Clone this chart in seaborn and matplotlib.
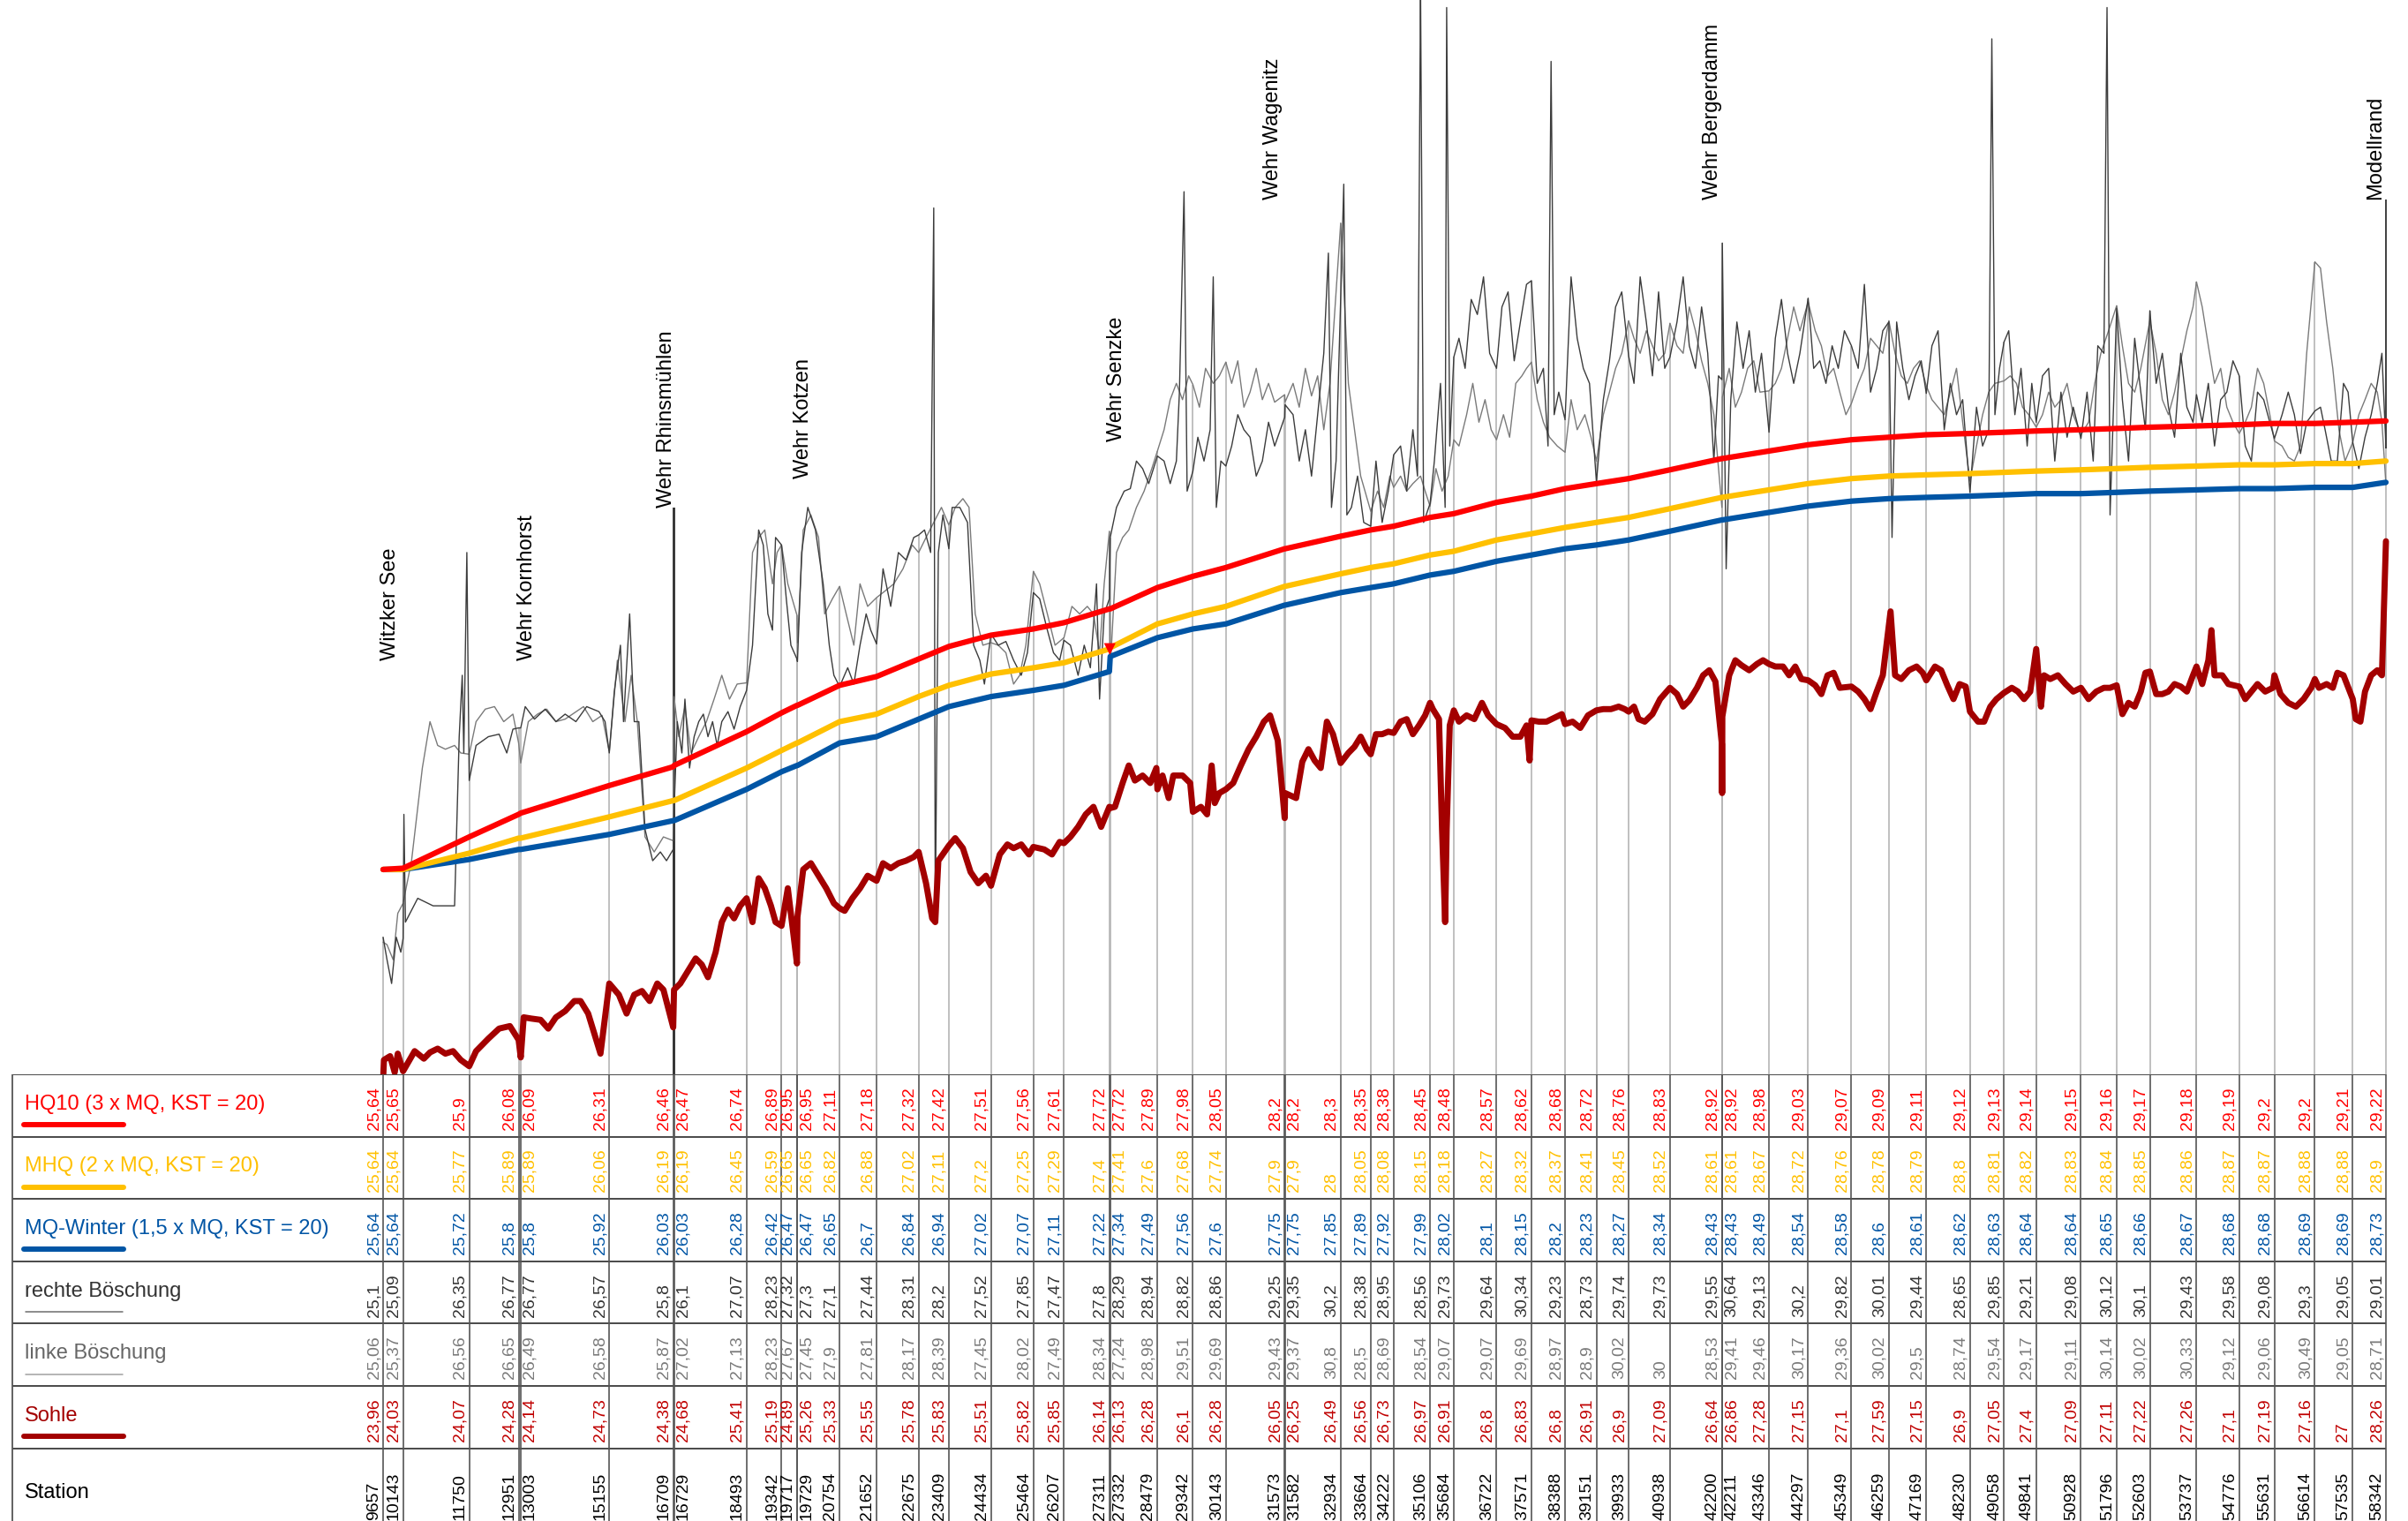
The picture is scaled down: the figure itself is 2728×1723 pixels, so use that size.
import numpy as np
import pandas as pd
import matplotlib
matplotlib.use("Agg")
import matplotlib.pyplot as plt
import matplotlib.transforms as mtransforms
import seaborn as sns

# table stations and values
stations = [9657, 10143, 11750, 12951, 13003, 15155, 16709, 16729, 18493, 19342,
            19717, 19729, 20754, 21652, 22675, 23409, 24434, 25464, 26207, 27311,
            27332, 28479, 29342, 30143, 31573, 31582, 32934, 33664, 34222, 35106,
            35684, 36722, 37571, 38388, 39151, 39933, 40938, 42200, 42211, 43346,
            44297, 45349, 46259, 47169, 48230, 49058, 49841, 50928, 51796, 52603,
            53737, 54776, 55631, 56614, 57535, 58342]
hq10 = [25.64, 25.65, 25.9, 26.08, 26.09, 26.31, 26.46, 26.47, 26.74, 26.89,
        26.95, 26.95, 27.11, 27.18, 27.32, 27.42, 27.51, 27.56, 27.61, 27.72,
        27.72, 27.89, 27.98, 28.05, 28.2, 28.2, 28.3, 28.35, 28.38, 28.45,
        28.48, 28.57, 28.62, 28.68, 28.72, 28.76, 28.83, 28.92, 28.92, 28.98,
        29.03, 29.07, 29.09, 29.11, 29.12, 29.13, 29.14, 29.15, 29.16, 29.17,
        29.18, 29.19, 29.2, 29.2, 29.21, 29.22]
mhq = [25.64, 25.64, 25.77, 25.89, 25.89, 26.06, 26.19, 26.19, 26.45, 26.59,
       26.65, 26.65, 26.82, 26.88, 27.02, 27.11, 27.2, 27.25, 27.29, 27.4,
       27.41, 27.6, 27.68, 27.74, 27.9, 27.9, 28.0, 28.05, 28.08, 28.15,
       28.18, 28.27, 28.32, 28.37, 28.41, 28.45, 28.52, 28.61, 28.61, 28.67,
       28.72, 28.76, 28.78, 28.79, 28.8, 28.81, 28.82, 28.83, 28.84, 28.85,
       28.86, 28.87, 28.87, 28.88, 28.88, 28.9]
mq_winter = [25.64, 25.64, 25.72, 25.8, 25.8, 25.92, 26.03, 26.03, 26.28, 26.42,
             26.47, 26.47, 26.65, 26.7, 26.84, 26.94, 27.02, 27.07, 27.11, 27.22,
             27.34, 27.49, 27.56, 27.6, 27.75, 27.75, 27.85, 27.89, 27.92, 27.99,
             28.02, 28.1, 28.15, 28.2, 28.23, 28.27, 28.34, 28.43, 28.43, 28.49,
             28.54, 28.58, 28.6, 28.61, 28.62, 28.63, 28.64, 28.64, 28.65, 28.66,
             28.67, 28.68, 28.68, 28.69, 28.69, 28.73]
rechte = [25.1, 25.09, 26.35, 26.77, 26.77, 26.57, 25.8, 26.1, 27.07, 28.23,
          27.32, 27.3, 27.1, 27.44, 28.31, 28.2, 27.52, 27.85, 27.47, 27.8,
          28.29, 28.94, 28.82, 28.86, 29.25, 29.35, 30.2, 28.38, 28.95, 28.56,
          29.73, 29.64, 30.34, 29.23, 28.73, 29.74, 29.73, 29.55, 30.64, 29.13,
          30.2, 29.82, 30.01, 29.44, 28.65, 29.85, 29.21, 29.08, 30.12, 30.1,
          29.43, 29.58, 29.08, 29.3, 29.05, 29.01]
linke = [25.06, 25.37, 26.56, 26.65, 26.49, 26.58, 25.87, 27.02, 27.13, 28.23,
         27.67, 27.45, 27.9, 27.81, 28.17, 28.39, 27.45, 28.02, 27.49, 28.34,
         27.24, 28.98, 29.51, 29.69, 29.43, 29.37, 30.8, 28.5, 28.69, 28.54,
         29.07, 29.07, 29.69, 28.97, 28.9, 30.02, 30.0, 28.53, 29.41, 29.46,
         30.17, 29.36, 30.02, 29.5, 28.74, 29.54, 29.17, 29.11, 30.14, 30.02,
         30.33, 29.12, 29.06, 30.49, 29.05, 28.71]
sohle = [23.96, 24.03, 24.07, 24.28, 24.14, 24.73, 24.38, 24.68, 25.41, 25.19,
         24.89, 25.26, 25.33, 25.55, 25.78, 25.83, 25.51, 25.82, 25.85, 26.14,
         26.13, 26.28, 26.1, 26.28, 26.05, 26.25, 26.49, 26.56, 26.73, 26.97,
         26.91, 26.8, 26.83, 26.8, 26.91, 26.9, 27.09, 26.64, 26.86, 27.28,
         27.15, 27.1, 27.59, 27.15, 26.9, 27.05, 27.4, 27.09, 27.11, 27.22,
         27.26, 27.1, 27.19, 27.16, 27.0, 28.26]

# profile points between the table stations
sohle_mid_st = [9678, 9827, 9939, 10014, 10424, 10648, 10797, 10984, 11171, 11357, 11544,
                11917, 12216, 12477, 12739, 13075, 13261, 13485, 13672, 13858, 14082, 14306,
                14456, 14642, 14829, 14941, 15389, 15576, 15762, 15949, 16136, 16322, 16472,
                16882, 17069, 17255, 17405, 17554, 17741, 17890, 18040, 18189, 18338,
                18637, 18786, 18935, 19085, 19197, 19495, 19869, 20055, 20242, 20429, 20615,
                20877, 21063, 21250, 21436, 21810, 21996, 22183, 22370, 22556,
                22855, 23004, 23079, 23154, 23564, 23751, 23937, 24124, 24311,
                24647, 24833, 24983, 25169, 25356, 25729, 25916, 26103,
                26364, 26551, 26737, 26924, 27111, 27447, 27633, 27783, 27932, 28119, 28305, 28454,
                28603, 28753, 28865, 29089, 29276, 29537, 29686, 29798, 29873, 29985,
                30321, 30508, 30695, 30881, 31068, 31217, 31404,
                31851, 32001, 32150, 32300, 32449, 32598, 32747, 33121, 33270, 33420, 33569,
                33792, 33942, 34091, 34390, 34539, 34689, 34838, 34987,
                35174, 35324, 35398, 35473, 35510, 35585, 35809, 35995, 36182, 36368, 36518,
                36928, 37115, 37302, 37451, 37526, 37750, 37937, 38123, 38310,
                38571, 38758, 38945, 39318, 39504, 39691, 39840,
                40064, 40176, 40325, 40512, 40699, 41109, 41259, 41408, 41595, 41744, 41893, 42043,
                42206, 42378, 42528, 42677, 42864, 43051, 43200,
                43499, 43686, 43834, 43984, 44133, 44469, 44618, 44768, 44917, 45066,
                45514, 45664, 45813, 45963, 46112, 46300, 46410, 46560, 46746, 46933, 47082,
                47381, 47530, 47679, 47829, 47978, 48127, 48426, 48575, 48725, 48874,
                49247, 49396, 49546, 49695, 49957, 50031, 50181, 50367, 50554, 50741,
                51114, 51300, 51487, 51636, 51936, 52085, 52234, 52383, 52495,
                52757, 52906, 53055, 53204, 53354, 53503, 53652,
                53876, 54025, 54100, 54175, 54362, 54511, 54922, 55071, 55220, 55407, 55593,
                55780, 55967, 56153, 56340, 56527, 56713, 56900, 57050, 57161, 57310,
                57609, 57721, 57833, 57983, 58132, 58244]
sohle_mid_h = [24.12, 24.15, 24.02, 24.17, 24.19, 24.13, 24.18, 24.21, 24.17, 24.19, 24.12,
               24.19, 24.29, 24.37, 24.39, 24.46, 24.45, 24.44, 24.37, 24.46, 24.51, 24.59,
               24.59, 24.49, 24.29, 24.17, 24.64, 24.49, 24.64, 24.67, 24.59, 24.73, 24.68,
               24.73, 24.83, 24.93, 24.88, 24.78, 24.98, 25.22, 25.32, 25.25, 25.35,
               25.22, 25.57, 25.49, 25.35, 25.22, 25.49, 25.64, 25.69, 25.59, 25.49, 25.37,
               25.31, 25.41, 25.49, 25.59, 25.69, 25.65, 25.69, 25.71, 25.74,
               25.53, 25.25, 25.22, 25.71, 25.89, 25.81, 25.62, 25.53, 25.59,
               25.76, 25.84, 25.81, 25.84, 25.76, 25.80, 25.76, 25.86,
               25.90, 25.98, 26.08, 26.14, 25.98, 26.14, 26.33, 26.47, 26.35, 26.39, 26.33, 26.45,
               26.39, 26.21, 26.39, 26.39, 26.33, 26.14, 26.08, 26.47, 26.17, 26.25,
               26.33, 26.47, 26.60, 26.70, 26.82, 26.87, 26.67,
               26.21, 26.50, 26.60, 26.51, 26.45, 26.82, 26.72, 26.57, 26.62, 26.70, 26.60,
               26.72, 26.72, 26.74, 26.82, 26.84, 26.72, 26.79, 26.87,
               26.92, 26.84, 25.96, 25.22, 25.96, 26.79, 26.82, 26.87, 26.84, 26.97, 26.87,
               26.77, 26.70, 26.70, 26.79, 26.51, 26.82, 26.82, 26.85, 26.88,
               26.82, 26.77, 26.87, 26.92, 26.92, 26.94, 26.92,
               26.94, 26.84, 26.82, 26.88, 27.00, 27.04, 26.94, 26.99, 27.09, 27.19, 27.23, 27.14,
               26.25, 27.19, 27.31, 27.27, 27.23, 27.28, 27.31,
               27.26, 27.26, 27.19, 27.26, 27.16, 27.11, 27.04, 27.19, 27.21, 27.09,
               27.06, 27.00, 26.92, 27.06, 27.19, 27.70, 27.19, 27.16, 27.23, 27.26, 27.21,
               27.26, 27.23, 27.11, 27.00, 27.12, 27.10, 26.82, 26.82, 26.94, 27.00,
               27.09, 27.06, 27.00, 27.06, 26.94, 27.19, 27.16, 27.19, 27.12, 27.06,
               27.00, 27.06, 27.09, 27.09, 26.88, 26.97, 26.94, 27.06, 27.21,
               27.04, 27.04, 27.06, 27.12, 27.10, 27.06, 27.19,
               27.12, 27.31, 27.55, 27.19, 27.19, 27.12, 27.00, 27.06, 27.12, 27.06, 27.09,
               27.04, 26.97, 26.94, 27.00, 27.09, 27.09, 27.12, 27.09, 27.21, 27.19,
               26.84, 26.82, 27.06, 27.19, 27.23, 27.19]

rechte_mid_st = [9752, 9864, 9976, 10088, 10163, 10200, 10499, 10872, 11395, 11507, 11581, 11619, 11693,
                 11917, 12216, 12477, 12664, 12813, 13112, 13336, 13597, 13858, 14082, 14344, 14605,
                 14904, 15053, 15277, 15426, 15501, 15650, 15762, 15874, 16024, 16210, 16397, 16546,
                 16808, 16920, 16994, 17106, 17218, 17330, 17442, 17554, 17666, 17778, 17890, 18040,
                 18189, 18338, 18637, 18786, 18898, 19010, 19122, 19197, 19458, 19570,
                 19831, 19981, 20167, 20354, 20503, 20615, 20951, 21100, 21250, 21399, 21511,
                 21810, 21996, 22183, 22370, 22556, 22818, 22967, 23042, 23079, 23154, 23266,
                 23490, 23676, 23863, 24012, 24162, 24274, 24610, 24796, 24983, 25169, 25319,
                 25617, 25804, 25953, 26103, 26364, 26551, 26700, 26849, 26999, 27073, 27185,
                 27484, 27671, 27820, 27969, 28119, 28268, 28641, 28790, 28940, 29014, 29126, 29201,
                 29462, 29612, 29761, 29836, 29911, 30022, 30284, 30433, 30582, 30731, 30881, 31030,
                 31180, 31329, 31777, 31926, 32076, 32225, 32374, 32523, 32635, 32710, 32822,
                 33009, 33084, 33195, 33344, 33494, 33792, 33942, 34091, 34390, 34539, 34689, 34801,
                 34875, 34950, 35211, 35360, 35473, 35510, 35585, 35809, 35958, 36107, 36256, 36406,
                 36555, 36854, 37003, 37152, 37302, 37451, 37712, 37862, 37974, 38048, 38123, 38235,
                 38534, 38683, 38832, 38982, 39318, 39467, 39616, 39766, 40064, 40214, 40363, 40512,
                 40661, 40811, 41109, 41259, 41408, 41557, 41707, 41856, 42005, 42117,
                 42304, 42416, 42565, 42715, 42864, 43013, 43163, 43499, 43648, 43797, 43946, 44096,
                 44432, 44581, 44730, 44880, 45029, 45178, 45514, 45664, 45813, 45963, 46112,
                 46336, 46448, 46597, 46746, 46896, 47045, 47306, 47455, 47605, 47754, 47903, 48053,
                 48389, 48538, 48687, 48762, 48837, 48949, 49173, 49322, 49471, 49621, 49733,
                 49994, 50143, 50292, 50442, 50591, 50741, 51077, 51226, 51338, 51487, 51562, 51636,
                 51935, 52085, 52234, 52383, 52495, 52757, 52906, 53055, 53204, 53354, 53503, 53652,
                 53876, 54025, 54175, 54324, 54474, 54623, 54922, 55071, 55220, 55370, 55519,
                 55817, 55967, 56116, 56265, 56415, 56751, 56863, 57012, 57161, 57310, 57422,
                 57684, 57833, 57983, 58132, 58244]
rechte_mid_h = [24.92, 24.73, 25.10, 24.98, 26.08, 25.22, 25.41, 25.35, 25.35, 26.70, 27.19, 26.57, 28.17,
                26.63, 26.70, 26.72, 26.57, 26.76, 26.94, 26.84, 26.92, 26.82, 26.88, 26.82, 26.94,
                26.90, 26.82, 27.06, 27.43, 26.82, 27.68, 26.82, 26.82, 25.96, 25.71, 25.78, 25.71,
                26.82, 26.57, 27.00, 26.45, 26.70, 26.82, 26.88, 26.70, 26.82, 26.63, 26.82, 26.90,
                26.76, 26.94, 27.43, 28.35, 28.23, 27.68, 27.55, 28.29, 27.80, 27.43,
                28.17, 28.53, 28.35, 27.92, 27.43, 27.19, 27.25, 27.12, 27.43, 27.68, 27.55,
                28.04, 27.74, 28.17, 28.11, 28.29, 28.35, 28.17, 30.92, 25.22, 28.17, 28.47,
                28.53, 28.53, 28.41, 27.43, 27.31, 27.12, 27.43, 27.46, 27.31, 27.19, 27.37,
                27.80, 27.55, 27.37, 27.31, 27.43, 27.19, 27.43, 27.25, 27.92, 27.00, 27.68,
                28.53, 28.66, 28.68, 28.90, 28.84, 28.72, 28.90, 28.72, 28.90, 29.45, 31.05, 28.66,
                29.09, 28.90, 29.15, 30.37, 28.53, 28.90, 29.02, 29.27, 29.15, 29.09, 28.78, 28.90,
                29.21, 29.02, 29.27, 28.90, 29.15, 28.78, 29.27, 29.76, 30.56, 28.53, 28.90,
                31.11, 28.47, 28.53, 28.78, 28.41, 28.90, 28.41, 28.66, 29.02, 28.66, 29.15, 28.78,
                32.70, 28.41, 28.90, 29.52, 28.53, 32.52, 29.02, 29.88, 29.64, 30.19, 30.07, 30.37,
                29.76, 30.13, 30.25, 29.70, 30.01, 30.31, 29.52, 29.64, 29.02, 32.09, 29.27, 29.45,
                30.37, 29.88, 29.64, 29.52, 29.39, 29.70, 30.13, 30.25, 29.52, 30.37, 30.01, 29.58,
                30.25, 29.64, 30.01, 30.37, 29.82, 29.64, 30.13, 29.76, 28.90, 29.58,
                28.04, 29.39, 30.01, 29.64, 29.94, 29.45, 29.76, 29.88, 30.19, 29.76, 29.52, 29.76,
                29.64, 29.70, 29.52, 29.82, 29.64, 29.94, 29.64, 30.31, 29.45, 29.64, 29.94,
                28.29, 30.01, 29.64, 29.39, 29.58, 29.70, 29.82, 29.94, 29.15, 29.52, 29.27, 29.39,
                29.33, 29.02, 29.15, 32.27, 29.27, 29.64, 29.94, 29.27, 29.64, 29.02, 29.52,
                29.58, 29.64, 28.90, 29.45, 29.09, 29.33, 29.45, 28.90, 29.82, 29.76, 32.52, 28.47,
                29.39, 28.90, 29.88, 29.45, 29.15, 29.52, 29.76, 29.33, 29.09, 29.76, 29.33, 29.21,
                29.21, 29.52, 29.02, 29.39, 29.45, 29.70, 29.02, 28.90, 29.45, 29.39, 29.21,
                29.27, 29.45, 29.27, 28.96, 29.21, 29.33, 29.15, 28.90, 28.90, 29.52, 29.45,
                28.84, 29.09, 29.27, 29.52, 29.76]

linke_mid_st = [9752, 9901, 10014, 10349, 10611, 10797, 10984, 11171, 11395, 11544,
                11917, 12141, 12365, 12589, 12813, 13187, 13411, 13634, 13858, 14082, 14306, 14530,
                14754, 14979, 15352, 15538, 15688, 15837, 16024, 16247, 16471,
                16845, 16994, 17144, 17330, 17517, 17703, 17890, 18077, 18263,
                18637, 18786, 18935, 19122, 19234, 19495, 19869, 20055, 20242, 20391, 20578,
                20914, 21100, 21250, 21436, 21847, 22071, 22295, 22519, 22855, 23042, 23229,
                23564, 23751, 23900, 24050, 24236, 24610, 24796, 24983, 25132, 25281,
                25617, 25804, 25991, 26401, 26588, 26775, 26924, 27073, 27185,
                27484, 27633, 27783, 27969, 28156, 28343, 28641, 28790, 28940, 29089, 29238,
                29500, 29649, 29836, 29985, 30284, 30433, 30582, 30731, 30881, 31030, 31180, 31329,
                31777, 31926, 32076, 32225, 32374, 32523, 32673, 33121, 33270, 33420,
                33830, 33979, 34129, 34390, 34539, 34689, 34875, 34987, 35249, 35398, 35548,
                35809, 35995, 36145, 36294, 36443, 36592, 36891, 37040, 37190, 37339, 37451,
                37712, 37862, 38011, 38198, 38534, 38683, 38870, 39019, 39318, 39467, 39616, 39766,
                40064, 40214, 40363, 40512, 40661, 40811, 41109, 41259, 41408, 41557, 41707, 41856, 42005,
                42378, 42528, 42677, 42826, 42976, 43125, 43499, 43648, 43797, 43946, 44096,
                44469, 44618, 44768, 44917, 45066, 45215, 45514, 45664, 45813, 45963, 46112,
                46410, 46560, 46709, 46858, 47008, 47306, 47455, 47605, 47754, 47903, 48053,
                48389, 48538, 48687, 48837, 49210, 49359, 49508, 49658,
                49994, 50143, 50292, 50442, 50591, 50741, 51114, 51263, 51412, 51599,
                51935, 52085, 52234, 52383, 52757, 52906, 53055, 53204, 53354, 53503, 53652,
                53876, 54025, 54175, 54324, 54474, 54623, 54922, 55071, 55220, 55370, 55519,
                55817, 55967, 56116, 56265, 56415, 56751, 56900, 57050, 57199, 57348,
                57684, 57833, 57983, 58132, 58244]
linke_mid_h = [25.04, 24.92, 25.29, 25.71, 26.45, 26.82, 26.63, 26.60, 26.63, 26.57,
               26.82, 26.92, 26.94, 26.82, 26.88, 26.82, 26.88, 26.92, 26.82, 26.84, 26.89, 26.94,
               26.82, 26.87, 27.31, 26.82, 27.19, 26.82, 25.90, 25.78, 25.90,
               26.70, 26.94, 26.57, 26.70, 26.82, 27.00, 27.19, 27.00, 27.12,
               28.17, 28.29, 28.35, 27.92, 28.17, 27.92, 28.35, 28.47, 28.29, 27.68, 27.80,
               27.68, 27.43, 27.92, 27.74, 27.86, 27.92, 28.04, 28.23, 28.29, 28.41, 28.53,
               28.53, 28.60, 28.53, 27.68, 27.43, 27.43, 27.37, 27.12, 27.19, 27.43,
               27.92, 27.68, 27.43, 27.74, 27.68, 27.74, 27.68, 27.37, 27.92,
               28.17, 28.29, 28.35, 28.53, 28.66, 28.84, 29.15, 29.39, 29.52, 29.39, 29.58,
               29.33, 29.64, 29.52, 29.58, 29.52, 29.70, 29.33, 29.45, 29.64, 29.39, 29.52, 29.37,
               29.52, 29.33, 29.64, 29.42, 29.58, 29.15, 29.52, 29.52, 29.15, 28.78,
               28.66, 28.53, 28.78, 28.78, 28.66, 28.72, 28.78, 28.66, 28.84, 28.66, 28.78,
               29.02, 29.27, 29.52, 29.21, 29.39, 29.15, 29.27, 29.09, 29.52, 29.58, 29.64,
               29.39, 29.21, 29.09, 29.02, 29.39, 29.15, 29.27, 29.09, 29.27, 29.45, 29.64, 29.76,
               29.88, 29.76, 29.94, 29.82, 29.70, 29.76, 29.82, 29.76, 30.13, 29.94, 29.70, 29.52, 29.27,
               29.64, 29.33, 29.45, 29.64, 29.70, 29.45, 29.52, 29.64, 29.88, 30.13, 29.94,
               29.94, 29.82, 29.58, 29.64, 29.45, 29.27, 29.52, 29.64, 29.88, 29.82, 29.76,
               29.76, 29.58, 29.52, 29.64, 29.70, 29.39, 29.33, 29.27, 29.45, 29.64, 29.21,
               29.02, 29.27, 29.45, 29.52, 29.58, 29.52, 29.33, 29.27,
               29.27, 29.45, 29.33, 29.39, 29.52, 29.27, 29.21, 29.52, 29.76, 29.94,
               29.82, 29.52, 29.45, 29.64, 29.76, 29.39, 29.27, 29.45, 29.70, 29.94, 30.13,
               30.13, 29.82, 29.52, 29.64, 29.33, 29.21, 29.21, 29.33, 29.64, 29.52, 29.27,
               29.02, 28.93, 28.90, 29.02, 29.76, 30.44, 30.01, 29.64, 29.15, 28.90,
               29.27, 29.39, 29.52, 29.45, 29.21]

# structures along the river
structure_names = ["Witzker See", "Wehr Kornhorst", "Wehr Rhinsmühlen", "Wehr Kotzen",
                   "Wehr Senzke", "Wehr Wagenitz", "Wehr Bergerdamm", "Modellrand"]
structure_station = [9827, 13149, 16546, 19869, 27484, 31292, 41968, 58095]
structure_label_h = [27.31, 27.31, 28.53, 28.76, 29.06, 30.99, 30.99, 30.99]
weir_marker_station = [27322]
weir_marker_h = [27.40]

row_names = ["HQ10 (3 x MQ, KST = 20)", "MHQ (2 x MQ, KST = 20)",
             "MQ-Winter (1,5 x MQ, KST = 20)", "rechte Böschung", "linke Böschung",
             "Sohle", "Station"]

C_HQ, C_MHQ, C_MQ = "#ff0000", "#ffc000", "#0055a5"
C_RB, C_LB, C_SO = "#3c3c3c", "#7a7a7a", "#a30000"

sns.set_theme(style="white")
plt.rcParams["font.family"] = ["Liberation Sans", "DejaVu Sans"]

W, H = 2728, 1723
TOP = 1217           # pixel row where the table starts
ROW = 70.6           # table row height in pixels
XLIM = (344.9, 58878)
YLIM = (24.005, 32.58)

fig = plt.figure(figsize=(W / 100, H / 100), dpi=100)
ax = fig.add_axes([0, (H - TOP) / H, 1, TOP / H])
tab = fig.add_axes([0, 0, 1, (H - TOP) / H])


def profile(st, h, st2, h2):
    df = pd.DataFrame({"station": list(st) + list(st2), "h": list(h) + list(h2)})
    return df.sort_values("station").reset_index(drop=True)


# station lines in the profile
ax.vlines(stations, YLIM[0], np.maximum(rechte, linke), color="#b5b5b5", lw=1.2, zorder=1)
ax.vlines([16709, 16729], YLIM[0], structure_label_h[2], color="#303030", lw=1.3, zorder=2)
ax.vlines([58342], 29.0, structure_label_h[7], color="#303030", lw=1.3, zorder=2)

sns.lineplot(data=profile(stations, linke, linke_mid_st, linke_mid_h), x="station", y="h",
             ax=ax, color=C_LB, lw=1.0, estimator=None, sort=True, zorder=3)
sns.lineplot(data=profile(stations, rechte, rechte_mid_st, rechte_mid_h), x="station", y="h",
             ax=ax, color=C_RB, lw=1.0, estimator=None, sort=True, zorder=3)

wl = pd.DataFrame({"station": stations, "HQ10": hq10, "MHQ": mhq, "MQ": mq_winter})
sns.lineplot(data=wl, x="station", y="MQ", ax=ax, color=C_MQ, lw=4.5, estimator=None, zorder=4)
sns.lineplot(data=wl, x="station", y="MHQ", ax=ax, color=C_MHQ, lw=4.5, estimator=None, zorder=5)
sns.lineplot(data=wl, x="station", y="HQ10", ax=ax, color=C_HQ, lw=4.5, estimator=None, zorder=6)
sns.scatterplot(x=weir_marker_station, y=weir_marker_h, ax=ax, marker="v", color=C_HQ,
                s=90, edgecolor="none", zorder=7)

sns.lineplot(data=profile(stations, sohle, sohle_mid_st, sohle_mid_h), x="station", y="h",
             ax=ax, color=C_SO, lw=5.0, estimator=None, sort=True, zorder=8)

for name, st, hb in zip(structure_names, structure_station, structure_label_h):
    ax.text(st, hb, name, rotation=90, ha="center", va="bottom", fontsize=17, color="black")

ax.set_xlim(*XLIM)
ax.set_ylim(*YLIM)
ax.axis("off")

# ---- table ----
nrows = (H - TOP) / ROW
tab.set_xlim(*XLIM)
tab.set_ylim(nrows, 0)
tab.axis("off")
x_left = XLIM[0] + 14 / W * (XLIM[1] - XLIM[0])
tab.hlines(range(7), x_left, stations[-1], color="#3a3a3a", lw=1.3)
tab.vlines([x_left], 0, nrows, color="#555555", lw=1.3)
tab.vlines(stations, 0, nrows, color="#555555", lw=1.2)

xa = mtransforms.blended_transform_factory(tab.transAxes, tab.transData)
row_colors = [C_HQ, C_MHQ, C_MQ, "#333333", "#666666", C_SO, "black"]
for i, (name, col) in enumerate(zip(row_names, row_colors)):
    yc = i + (0.71 if i == 6 else 0.48)
    tab.text(28 / W, yc, name, transform=xa, ha="left", va="center", fontsize=17, color=col)
swatch = [(C_HQ, 4.3), (C_MHQ, 4.3), (C_MQ, 4.3), ("#6e6e6e", 1.1), ("#a0a0a0", 1.1), (C_SO, 4.3)]
for i, (col, lw) in enumerate(swatch):
    x0, x1 = (27 / W, 140 / W) if lw > 2 else (29 / W, 139 / W)
    tab.plot([x0, x1], [i + 0.81, i + 0.81], transform=xa, color=col, lw=lw,
             solid_capstyle="round")

value_rows = [hq10, mhq, mq_winter, rechte, linke, sohle]
value_colors = [C_HQ, "#ffc000", C_MQ, "#333333", "#7a7a7a", "#c00000"]
shift_l = mtransforms.offset_copy(tab.transData, fig=fig, x=-2, y=0, units="dots")
shift_r = mtransforms.offset_copy(tab.transData, fig=fig, x=2, y=0, units="dots")

# a station that sits right next to the previous one gets its numbers on the right of its line
right_side = [k > 0 and stations[k] - stations[k - 1] < 300 for k in range(len(stations))]


def de(v):
    return f"{v:g}".replace(".", ",")


def cell(st, y, txt, col, k):
    if right_side[k]:
        tab.text(st, y, txt, transform=shift_r, rotation=90, ha="left", va="bottom",
                 fontsize=14, color=col)
    else:
        tab.text(st, y, txt, transform=shift_l, rotation=90, ha="right", va="bottom",
                 fontsize=14, color=col)


for i, (vals, col) in enumerate(zip(value_rows, value_colors)):
    for k, (st, v) in enumerate(zip(stations, vals)):
        cell(st, i + 1 - 0.11, de(v), col, k)
for k, st in enumerate(stations):
    cell(st, nrows - 0.01, str(st), "black", k)

fig.savefig("out.png", dpi=100, facecolor="white")
